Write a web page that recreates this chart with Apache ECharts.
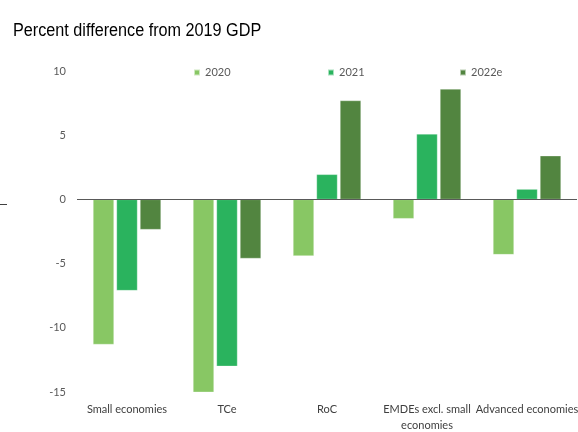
<!DOCTYPE html>
<html>
<head>
<meta charset="utf-8">
<script src="https://cdn.jsdelivr.net/npm/echarts@6/dist/echarts.min.js"></script>
<style>
  html, body { margin: 0; padding: 0; background: #fff; }
  #chart { width: 578px; height: 432px; }
</style>
</head>
<body>
<div id="chart"></div>
<script>
// Country groups along the x axis
var categories = ['Small economies', 'TCe', 'RoC', 'EMDEs excl. small\neconomies', 'Advanced economies'];
// Percent difference from 2019 GDP, per year
var values2020 = [-11.3, -15.1, -4.4, -1.5, -4.3];
var values2021 = [-7.1, -13.0, 1.95, 5.1, 0.8];
var values2022e = [-2.35, -4.6, 7.7, 8.6, 3.4];
var seriesNames = ['2020', '2021', '2022e'];
var yTicks = [-15, -10, -5, 0, 5, 10];
var chartTitle = 'Percent difference from 2019 GDP';

var colors = ['#88C764', '#2AB35E', '#528540'];
var font = 'Lato, "Open Sans", sans-serif';

var chart = echarts.init(document.getElementById('chart'));

function bar(name, data, color) {
  return {
    name: name,
    type: 'bar',
    data: data,
    barGap: '12%',
    barCategoryGap: '32%',
    itemStyle: { color: color, borderColor: 'rgba(255,255,255,0.6)', borderWidth: 0.5 }
  };
}

// one legend entry per year, each placed on its own
var legendLefts = [188, 322, 454];
var legends = seriesNames.map(function (name, i) {
  return {
    left: legendLefts[i],
    top: 62,
    itemWidth: 6,
    itemHeight: 6,
    itemGap: 4,
    icon: 'rect',
    textStyle: { fontFamily: font, fontSize: 11, color: '#595959' },
    data: [name]
  };
});

chart.setOption({
  animation: false,
  legend: legends,
  grid: { left: 77, right: 1, top: 71, bottom: 40, containLabel: false, outerBoundsMode: 'none' },
  xAxis: {
    type: 'category',
    data: categories,
    position: 'bottom',
    axisLine: { show: false },
    axisTick: { show: false },
    axisLabel: {
      interval: 0,
      margin: 9,
      fontFamily: font,
      fontSize: 11,
      color: '#404040',
      lineHeight: 16
    }
  },
  yAxis: {
    type: 'value',
    min: yTicks[0],
    max: yTicks[yTicks.length - 1],
    interval: 5,
    axisLine: { show: false },
    axisTick: { show: false },
    splitLine: { show: false },
    axisLabel: {
      margin: 11,
      fontFamily: font,
      fontSize: 11,
      color: '#595959'
    }
  },
  graphic: [
    {
      // narrow headline above the plot
      type: 'text',
      x: 13,
      y: 22,
      scaleX: 0.9,
      style: {
        text: chartTitle,
        font: '18px "Liberation Sans", Arial, sans-serif',
        fill: '#000',
        verticalAlign: 'top',
        align: 'left'
      }
    },
    {
      type: 'line',
      shape: { x1: 0, y1: 204.5, x2: 7, y2: 204.5 },
      style: { stroke: '#404040', lineWidth: 1 }
    }
  ],
  series: [
    bar(seriesNames[0], values2020, colors[0]),
    bar(seriesNames[1], values2021, colors[1]),
    bar(seriesNames[2], values2022e, colors[2]),
    {
      type: 'line',
      data: [],
      markLine: {
        silent: true,
        symbol: 'none',
        label: { show: false },
        lineStyle: { color: '#595959', width: 1, type: 'solid' },
        data: [{ yAxis: 0 }]
      }
    }
  ]
});
</script>
</body>
</html>
